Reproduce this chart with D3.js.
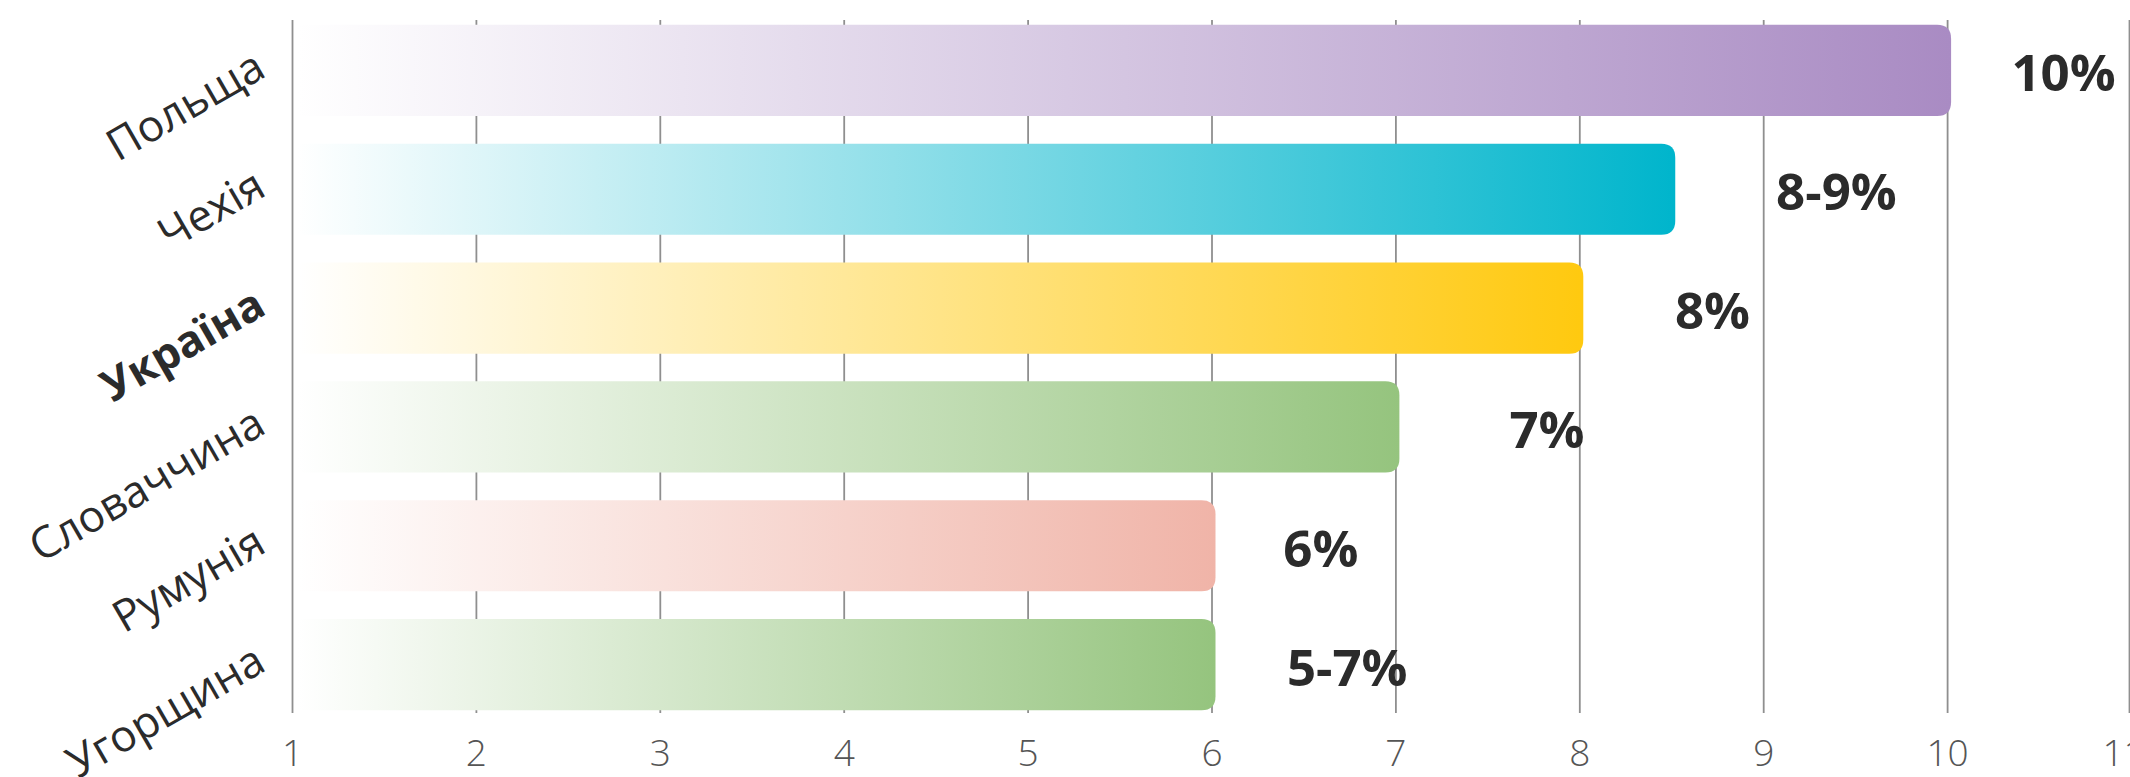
<!DOCTYPE html>
<html>
<head>
<meta charset="utf-8">
<script src="https://cdn.jsdelivr.net/npm/d3@7"></script>
<style>
  html, body { margin: 0; padding: 0; background: #ffffff; }
  svg { display: block; }
</style>
</head>
<body>
<svg id="chart" width="2130" height="777"></svg>
<script>
// ---- data ----
const categories = ["Польща", "Чехія", "Україна", "Словаччина", "Румунія", "Угорщина"];
const values = [10, 8.5, 8, 7, 6, 6];
const valueLabels = ["10%", "8-9%", "8%", "7%", "6%", "5-7%"];
const barColors = ["#a98bc3", "#00b5cc", "#ffc90f", "#95c47e", "#f0b4a8", "#95c47e"];
const xTicks = [1, 2, 3, 4, 5, 6, 7, 8, 9, 10, 11];
const highlighted = ["Україна"];

// ---- layout (positions of value labels, in axis units) ----
const labelAt = [10.35, 9.07, 8.52, 7.62, 6.39, 6.41];

const W = 2130, H = 777;
const svg = d3.select("#chart");

const x = d3.scaleLinear().domain([1, 11]).range([292, 2131]);
const y = d3.scaleBand().domain(categories).range([11, 724]).paddingInner(0.233).paddingOuter(0.1165);

const gridTop = 20, gridBottom = 713;

// gridlines + tick labels via axis
const axis = d3.axisBottom(x)
  .tickValues(xTicks)
  .tickFormat(d3.format("d"))
  .tickSizeInner(-(gridBottom - gridTop))
  .tickSizeOuter(0)
  .tickPadding(27);

const gAxis = svg.append("g")
  .attr("transform", `translate(0,${gridBottom})`)
  .call(axis);
gAxis.select(".domain").remove();
gAxis.selectAll(".tick line")
  .attr("stroke", "#8f8f8f")
  .attr("stroke-width", 1.8)
  .attr("x1", d => d === 11 ? -2 : 0)
  .attr("x2", d => d === 11 ? -2 : 0);
gAxis.selectAll(".tick text")
  .attr("fill", "#555555")
  .attr("dx", d => d === 11 ? -8 : 0)
  .style("font-family", "'Open Sans', 'Noto Sans', sans-serif")
  .style("font-weight", 300)
  .style("font-size", "37px");

// gradients
const defs = svg.append("defs");
categories.forEach((c, i) => {
  const g = defs.append("linearGradient")
    .attr("id", "grad" + i)
    .attr("x1", "0%").attr("x2", "100%")
    .attr("y1", "0%").attr("y2", "0%");
  g.append("stop").attr("offset", "0%").attr("stop-color", "#ffffff");
  g.append("stop").attr("offset", "100%").attr("stop-color", barColors[i]);
});

// bars with rounded right corners
const r = 14;
function barPath(x0, x1, y0, h) {
  return `M${x0},${y0}H${x1 - r}Q${x1},${y0} ${x1},${y0 + r}V${y0 + h - r}Q${x1},${y0 + h} ${x1 - r},${y0 + h}H${x0}Z`;
}
svg.append("g").selectAll("path")
  .data(categories)
  .join("path")
  .attr("d", (c, i) => barPath(x(1) + 6, x(values[i]) + 4, y(c), y.bandwidth()))
  .attr("fill", (c, i) => `url(#grad${i})`);

// value labels
svg.append("g").selectAll("text")
  .data(categories)
  .join("text")
  .attr("x", (c, i) => x(labelAt[i]))
  .attr("y", c => y(c) + y.bandwidth() / 2 + 21)
  .attr("fill", "#2b2b2b")
  .style("font-family", "'Open Sans', 'Noto Sans', sans-serif")
  .style("font-weight", 700)
  .style("font-size", "51px")
  .text((c, i) => valueLabels[i]);

// category labels (rotated)
svg.append("g").selectAll("text")
  .data(categories)
  .join("text")
  .attr("transform", c => `translate(268,${y(c) + y.bandwidth() / 2 + 5}) rotate(-30)`)
  .attr("text-anchor", "end")
  .attr("fill", "#2b2b2b")
  .style("font-family", "'Open Sans', 'Noto Sans', sans-serif")
  .style("font-weight", c => highlighted.includes(c) ? 700 : 400)
  .style("font-size", "44px")
  .text(c => c);
</script>
</body>
</html>
